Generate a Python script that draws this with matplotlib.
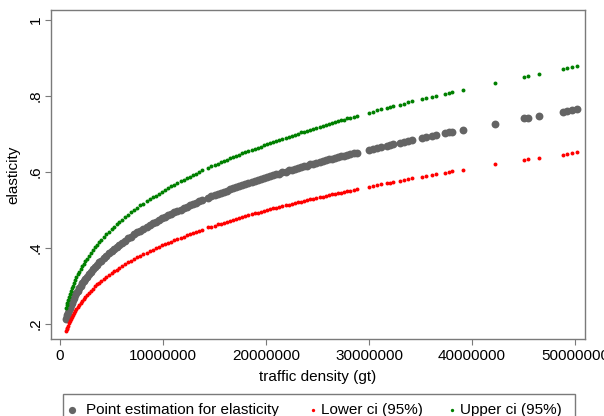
import matplotlib
matplotlib.use("Agg")
import matplotlib.pyplot as plt
from matplotlib.lines import Line2D
from matplotlib.patches import Rectangle

plt.rcParams["font.family"] = ["Liberation Sans", "DejaVu Sans"]

# traffic density in millions of gt (shared by all three series)
density_m = [
    0.60, 0.66, 0.72, 0.80, 0.88, 0.96, 1.05, 1.15, 1.25, 1.36,
    1.48, 1.60, 1.73, 1.87, 2.00, 2.15, 2.30, 2.45, 2.60, 2.80,
    3.00, 3.20, 3.40, 3.60, 3.80, 4.00, 4.25, 4.50, 4.75, 5.00,
    5.25, 5.50, 5.75, 6.00, 6.30, 6.60, 6.90, 7.20, 7.50, 7.80, 8.10,
    8.4, 8.7, 9.0, 9.3, 9.6, 9.9, 10.2, 10.5, 10.8, 11.1,
    11.4, 11.7, 12.0, 12.3, 12.6, 12.9, 13.2, 13.5, 13.8, 14.4,
    14.7, 15.0, 15.3, 15.6, 15.9, 16.2, 16.5, 16.8, 17.1, 17.4,
    17.7, 18.0, 18.3, 18.6, 18.9, 19.2, 19.5, 19.8, 20.1, 20.4,
    20.7, 21.0, 21.3, 21.6, 21.9, 22.2, 22.5, 22.8, 23.1, 23.4,
    23.7, 24.0, 24.3, 24.6, 24.9, 25.2, 25.5, 25.8, 26.1, 26.4,
    26.7, 27.0, 27.3, 27.6, 27.9, 28.2, 28.5, 28.8,
    30.0, 30.4, 30.8, 31.2, 31.7, 32.0, 32.3, 33.0, 33.4, 33.8,
    34.2, 35.1, 35.5, 36.1, 36.5, 37.4, 37.8, 38.1, 39.1, 42.2,
    45.0, 45.4, 46.55, 48.8, 49.2, 49.7, 50.2,
]

point_est = [
    0.212, 0.218, 0.223, 0.230, 0.237, 0.243, 0.249, 0.256, 0.262, 0.269,
    0.275, 0.282, 0.288, 0.295, 0.300, 0.307, 0.313, 0.319, 0.324, 0.331,
    0.338, 0.344, 0.350, 0.356, 0.362, 0.367, 0.374, 0.380, 0.386, 0.392,
    0.397, 0.403, 0.408, 0.413, 0.419, 0.425, 0.430, 0.436, 0.441, 0.446, 0.451,
    0.455, 0.460, 0.465, 0.469, 0.473, 0.478, 0.482, 0.486, 0.490, 0.494,
    0.497, 0.501, 0.505, 0.509, 0.512, 0.516, 0.519, 0.523, 0.526, 0.532,
    0.536, 0.539, 0.542, 0.545, 0.548, 0.551, 0.554, 0.557, 0.560, 0.562,
    0.565, 0.568, 0.571, 0.573, 0.576, 0.579, 0.581, 0.584, 0.586, 0.589,
    0.592, 0.594, 0.596, 0.599, 0.601, 0.604, 0.606, 0.608, 0.611, 0.613,
    0.615, 0.617, 0.620, 0.622, 0.624, 0.626, 0.628, 0.631, 0.633, 0.635,
    0.637, 0.639, 0.641, 0.643, 0.645, 0.647, 0.649, 0.651,
    0.659, 0.661, 0.664, 0.666, 0.669, 0.671, 0.673, 0.677, 0.680, 0.682,
    0.684, 0.689, 0.692, 0.695, 0.697, 0.702, 0.704, 0.706, 0.711, 0.727,
    0.741, 0.743, 0.748, 0.759, 0.760, 0.763, 0.765,
]

lower_ci = [
    0.181, 0.186, 0.190, 0.196, 0.202, 0.207, 0.212, 0.218, 0.223, 0.229,
    0.235, 0.240, 0.245, 0.251, 0.256, 0.261, 0.267, 0.272, 0.276, 0.282,
    0.288, 0.293, 0.299, 0.304, 0.308, 0.313, 0.318, 0.324, 0.329, 0.334,
    0.339, 0.343, 0.348, 0.352, 0.357, 0.362, 0.367, 0.371, 0.376, 0.380, 0.384,
    0.388, 0.392, 0.396, 0.400, 0.403, 0.407, 0.410, 0.414, 0.417, 0.421,
    0.424, 0.427, 0.430, 0.433, 0.436, 0.439, 0.442, 0.445, 0.448, 0.454,
    0.456, 0.459, 0.462, 0.464, 0.467, 0.469, 0.472, 0.474, 0.477, 0.479,
    0.482, 0.484, 0.486, 0.489, 0.491, 0.493, 0.495, 0.498, 0.500, 0.502,
    0.504, 0.506, 0.508, 0.510, 0.512, 0.514, 0.516, 0.518, 0.520, 0.522,
    0.524, 0.526, 0.528, 0.530, 0.532, 0.534, 0.535, 0.537, 0.539, 0.541,
    0.543, 0.544, 0.546, 0.548, 0.550, 0.551, 0.553, 0.555,
    0.561, 0.563, 0.566, 0.568, 0.570, 0.572, 0.573, 0.577, 0.579, 0.581,
    0.583, 0.587, 0.589, 0.592, 0.594, 0.598, 0.600, 0.602, 0.606, 0.620,
    0.631, 0.633, 0.638, 0.646, 0.648, 0.650, 0.652,
]

upper_ci = [
    0.243, 0.250, 0.256, 0.264, 0.272, 0.279, 0.286, 0.294, 0.301, 0.308,
    0.316, 0.323, 0.331, 0.338, 0.345, 0.352, 0.359, 0.366, 0.372, 0.380,
    0.388, 0.395, 0.402, 0.409, 0.415, 0.422, 0.429, 0.436, 0.443, 0.450,
    0.456, 0.462, 0.468, 0.474, 0.481, 0.487, 0.494, 0.500, 0.506, 0.512, 0.517,
    0.523, 0.528, 0.533, 0.538, 0.543, 0.548, 0.553, 0.558, 0.562, 0.567,
    0.571, 0.575, 0.580, 0.584, 0.588, 0.592, 0.596, 0.600, 0.604, 0.611,
    0.615, 0.619, 0.622, 0.626, 0.629, 0.632, 0.636, 0.639, 0.642, 0.646,
    0.649, 0.652, 0.655, 0.658, 0.661, 0.664, 0.667, 0.670, 0.673, 0.676,
    0.679, 0.682, 0.685, 0.688, 0.690, 0.693, 0.696, 0.698, 0.701, 0.704,
    0.706, 0.709, 0.711, 0.714, 0.717, 0.719, 0.721, 0.724, 0.726, 0.729,
    0.731, 0.734, 0.736, 0.738, 0.741, 0.743, 0.745, 0.747,
    0.756, 0.759, 0.762, 0.765, 0.768, 0.771, 0.773, 0.777, 0.780, 0.783,
    0.786, 0.791, 0.794, 0.798, 0.801, 0.806, 0.809, 0.811, 0.817, 0.835,
    0.851, 0.853, 0.859, 0.871, 0.873, 0.876, 0.878,
]

x_ticks = [0, 10000000, 20000000, 30000000, 40000000, 50000000]
y_ticks = [0.2, 0.4, 0.6, 0.8, 1.0]
y_tick_labels = [".2", ".4", ".6", ".8", "1"]
legend_labels = ["Point estimation for elasticity", "Lower ci (95%)", "Upper ci (95%)"]

gray = "#646464"
red = "#ff0000"
green = "#008000"
frame = "#7a7a7a"

density = [d * 1e6 for d in density_m]

W, H = 604, 416
fig = plt.figure(figsize=(W / 100, H / 100), dpi=100)
fig.patch.set_facecolor("white")

# plot region in pixels: left 51, top 10, right 585, bottom 339
ax = fig.add_axes([51 / W, 1 - 339 / H, 534 / W, 329 / H])

ax.scatter(density, point_est, s=32, color=gray, linewidths=0, zorder=3)
ax.scatter(density, lower_ci, s=8, color=red, linewidths=0, zorder=3)
ax.scatter(density, upper_ci, s=8, color=green, linewidths=0, zorder=3)

ax.set_xlim(-874000, 50970000)
ax.set_ylim(0.1605, 1.0263)

ax.set_xticks(x_ticks)
ax.set_xticklabels([str(t) for t in x_ticks], fontsize=11)
ax.set_yticks(y_ticks)
ax.set_yticklabels(y_tick_labels, fontsize=11, rotation=90, va="center")

for s in ax.spines.values():
    s.set_color(frame)
    s.set_linewidth(1.0)
ax.tick_params(axis="both", direction="out", length=4.3, width=0.8,
               color=frame, labelcolor="black")
ax.tick_params(axis="x", pad=3)
ax.tick_params(axis="y", pad=1.5)

ax.set_xlabel("traffic density (gt)", fontsize=11)
ax.xaxis.set_label_coords(0.5, -0.094)
ax.set_ylabel("elasticity", fontsize=11)
ax.yaxis.set_label_coords(-0.058, 0.5)

# legend box below the plot (partly cut off by the figure edge, as in the original)
fig.add_artist(Rectangle((63 / W, 1 - 420 / H), 512 / W, 26 / H,
                         transform=fig.transFigure, facecolor="white",
                         edgecolor=frame, linewidth=1.0))
ly = 1 - 410 / H
marker_x = [72, 313, 452]
text_x = [86, 321, 460]
colors = [gray, red, green]
sizes = [5.2, 2.4, 2.4]
for mx, tx, c, ms, lab in zip(marker_x, text_x, colors, sizes, legend_labels):
    fig.add_artist(Line2D([mx / W], [ly], marker="o", markersize=ms,
                          markerfacecolor=c, markeredgewidth=0, linestyle="none",
                          transform=fig.transFigure))
    fig.text(tx / W, ly, lab, fontsize=11, va="center", ha="left")

fig.savefig("out.png", dpi=100)
